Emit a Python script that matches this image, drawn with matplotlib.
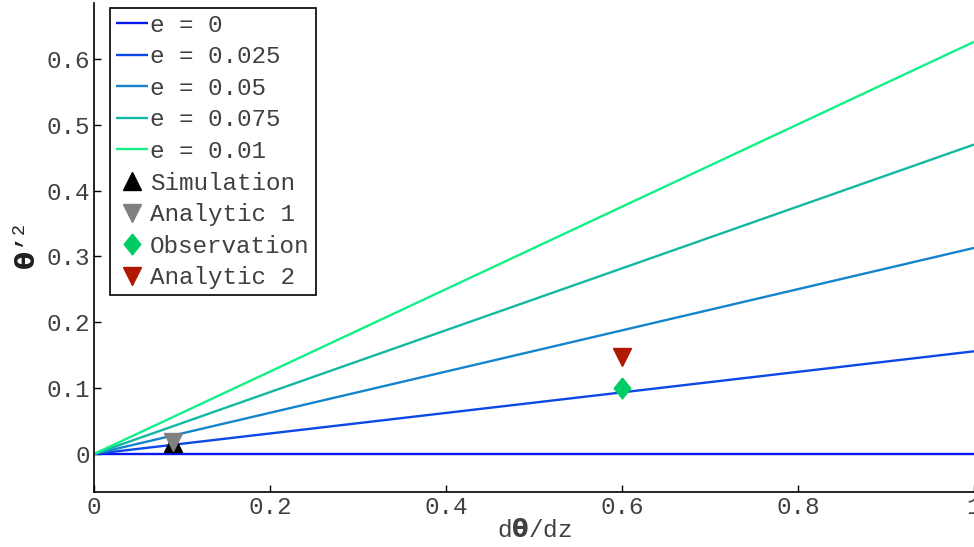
import numpy as np
import matplotlib
matplotlib.use("Agg")
import matplotlib.pyplot as plt

plt.rcParams['font.family'] = ['Liberation Mono', 'DejaVu Sans']
plt.rcParams['mathtext.fontset'] = 'custom'
plt.rcParams['mathtext.rm'] = 'Liberation Mono'
plt.rcParams['mathtext.bf'] = 'DejaVu Sans:bold'

# data
x_range = [0.0, 1.0]
e_labels = ["e = 0", "e = 0.025", "e = 0.05", "e = 0.075", "e = 0.01"]
e_slopes = [0.0, 0.156, 0.313, 0.470, 0.626]
e_colors = ["#0818f0", "#0c48e6", "#1484cc", "#12b8a2", "#12f088"]

sim_x, sim_y = [0.09], [0.017]
an1_x, an1_y = [0.09], [0.019]
obs_x, obs_y = [0.6], [0.1]
an2_x, an2_y = [0.6], [0.147]

xticks = [0, 0.2, 0.4, 0.6, 0.8, 1]
xticklabels = ["0", "0.2", "0.4", "0.6", "0.8", "1"]
yticks = [0, 0.1, 0.2, 0.3, 0.4, 0.5, 0.6]
yticklabels = ["0", "0.1", "0.2", "0.3", "0.4", "0.5", "0.6"]

txtc = '#404040'
fs = 17.5

fig = plt.figure(figsize=(9.74, 5.47), dpi=100)
ax = fig.add_axes([94/974, 55/547, 880/974, 489/547])

xs = np.array(x_range)
for lab, s, c in zip(e_labels, e_slopes, e_colors):
    ax.plot(xs, s * xs, color=c, lw=1.7, label=lab, solid_capstyle='butt')

diamond = [(0, 1), (0.8, 0), (0, -1), (-0.8, 0), (0, 1)]
ax.plot(sim_x, sim_y, linestyle='none', marker='^', color='black', markersize=13, label='Simulation')
ax.plot(an1_x, an1_y, linestyle='none', marker='v', color='#808080', markersize=13, label='Analytic 1')
ax.plot(obs_x, obs_y, linestyle='none', marker=diamond, color='#00cc66', markersize=15, label='Observation')
ax.plot(an2_x, an2_y, linestyle='none', marker='v', color='#b01800', markersize=13, label='Analytic 2')

ax.set_xlim(0, 1)
ax.set_ylim(-0.0577, 0.685)
ax.set_xticks(xticks)
ax.set_xticklabels(xticklabels)
ax.set_yticks(yticks)
ax.set_yticklabels(yticklabels)
ax.tick_params(direction='in', length=5, width=1, labelsize=fs, labelcolor=txtc, pad=3)
for side in ['top', 'right']:
    ax.spines[side].set_visible(False)
for side in ['left', 'bottom']:
    ax.spines[side].set_linewidth(1.2)

ax.set_xlabel(r"d$\mathbf{\theta}$/dz", fontsize=fs, color=txtc, labelpad=0)
ax.set_ylabel(r"$\mathbf{\theta}$’$^{2}$", fontsize=19, color='#202020', labelpad=4)

leg = ax.legend(loc='upper left', bbox_to_anchor=(0.018, 0.99), fontsize=fs,
                handlelength=1.3, handletextpad=0.1, labelspacing=0.35,
                borderpad=0.25, borderaxespad=0.0, fancybox=False, framealpha=1,
                edgecolor='black')
leg.get_frame().set_linewidth(1.2)
for t in leg.get_texts():
    t.set_color(txtc)

fig.savefig("out.png", dpi=100)
